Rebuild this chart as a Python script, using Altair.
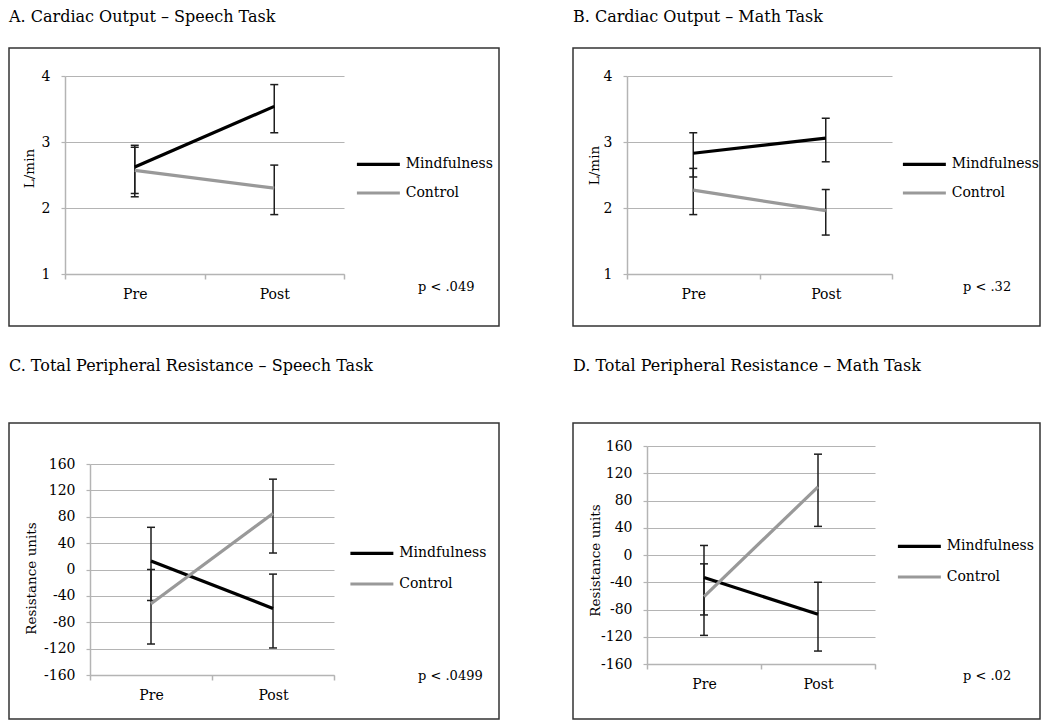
import altair as alt
import pandas as pd

FONT = "DejaVu Serif"
PHASES = ["Pre", "Post"]
GROUPS = ["Mindfulness", "Control"]

# A. Cardiac Output – Speech Task (L/min)
a_mind = [2.62, 3.54]
a_mind_lo = [2.22, 3.14]
a_mind_hi = [2.95, 3.87]
a_ctrl = [2.57, 2.30]
a_ctrl_lo = [2.17, 1.90]
a_ctrl_hi = [2.92, 2.65]

# B. Cardiac Output – Math Task (L/min)
b_mind = [2.83, 3.06]
b_mind_lo = [2.47, 2.70]
b_mind_hi = [3.14, 3.36]
b_ctrl = [2.27, 1.96]
b_ctrl_lo = [1.90, 1.59]
b_ctrl_hi = [2.60, 2.28]

# C. Total Peripheral Resistance – Speech Task
c_mind = [13, -59]
c_mind_lo = [-47, -119]
c_mind_hi = [64, -7]
c_ctrl = [-52, 85]
c_ctrl_lo = [-113, 25]
c_ctrl_hi = [0, 137]

# D. Total Peripheral Resistance – Math Task
d_mind = [-33, -87]
d_mind_lo = [-88, -141]
d_mind_hi = [14, -40]
d_ctrl = [-61, 100]
d_ctrl_lo = [-118, 42]
d_ctrl_hi = [-13, 148]

co_ticks = [1, 2, 3, 4]
tpr_ticks = [-160, -120, -80, -40, 0, 40, 80, 120, 160]

GRID = "#b4b4b4"
ERR = "#1e1e1e"


def panel(title, mind, mind_lo, mind_hi, ctrl, ctrl_lo, ctrl_hi, ydomain, yticks,
          ytitle, pval, box_w, box_h, x_rng, y_rng, ytx, yty, leg_x, leg_y, leg_rp,
          p_x, p_y, title_offset):
    df = pd.DataFrame({
        "phase": PHASES * 2,
        "group": [GROUPS[0]] * 2 + [GROUPS[1]] * 2,
        "value": mind + ctrl,
        "lo": mind_lo + ctrl_lo,
        "hi": mind_hi + ctrl_hi,
    })
    xscale = alt.Scale(type="band", domain=PHASES, range=x_rng,
                       paddingInner=0, paddingOuter=0)
    yscale = alt.Scale(domain=ydomain, range=y_rng, nice=False, zero=False)
    x_axis = alt.Axis(title=None, orient="bottom", offset=-(box_h - y_rng[0]),
                      tickBand="extent", grid=False, domainColor=GRID,
                      domainWidth=1.5, tickColor=GRID, tickSize=5, tickWidth=1.5,
                      labelPadding=8, labelAngle=0)
    y_axis = alt.Axis(title=ytitle, orient="left", offset=-x_rng[0], values=yticks,
                      grid=True, gridColor=GRID, gridWidth=1.2, domainColor=GRID,
                      domainWidth=1.5, tickColor=GRID, tickSize=4, tickWidth=1.2,
                      labelPadding=11, labelExpr="toString(datum.value)",
                      titleX=ytx, titleY=yty, titleAngle=-90, titleAlign="center",
                      titleBaseline="middle")
    x = alt.X("phase:N", sort=PHASES, scale=xscale, axis=x_axis)
    base = alt.Chart(df)
    rules = base.mark_rule(color=ERR, strokeWidth=1.5).encode(
        x=x, y=alt.Y("lo:Q", scale=yscale, axis=y_axis), y2="hi:Q")
    caps_lo = base.mark_tick(color=ERR, size=8, thickness=1.5, opacity=1).encode(
        x=x, y=alt.Y("lo:Q", scale=yscale, axis=y_axis))
    caps_hi = base.mark_tick(color=ERR, size=8, thickness=1.5, opacity=1).encode(
        x=x, y=alt.Y("hi:Q", scale=yscale, axis=y_axis))
    lines = base.mark_line(strokeWidth=3.2).encode(
        x=x,
        y=alt.Y("value:Q", scale=yscale, axis=y_axis),
        color=alt.Color("group:N",
                        scale=alt.Scale(domain=GROUPS, range=["#000000", "#999999"]),
                        legend=alt.Legend(orient="none", legendX=leg_x, legendY=leg_y,
                                          title=None, padding=0,
                                          symbolType="M-5,0H1", symbolSize=205,
                                          symbolStrokeWidth=3.2, labelFont=FONT,
                                          labelFontSize=14, labelColor="#000000",
                                          labelOffset=4, rowPadding=leg_rp)),
        detail="group:N",
    )
    ptext = alt.Chart(pd.DataFrame({"t": [pval]})).mark_text(
        font=FONT, fontSize=13, align="left", baseline="middle", color="#000000"
    ).encode(x=alt.value(p_x), y=alt.value(p_y), text="t:N")
    return alt.layer(rules, caps_lo, caps_hi, lines, ptext).properties(
        width=box_w, height=box_h,
        title=alt.TitleParams(title, anchor="start", font=FONT, fontSize=16,
                              fontWeight="normal", color="#000000",
                              offset=title_offset, frame="group"),
    )


pA = panel("A. Cardiac Output \u2013 Speech Task", a_mind, a_mind_lo, a_mind_hi,
           a_ctrl, a_ctrl_lo, a_ctrl_hi, [1, 4], co_ticks, "L/min", "p < .049",
           490, 278, [56, 335], [226, 28], -36, 120, 374.7, 107.3, 12.7, 409, 239, 23)
pB = panel("B. Cardiac Output \u2013 Math Task", b_mind, b_mind_lo, b_mind_hi,
           b_ctrl, b_ctrl_lo, b_ctrl_hi, [1, 4], co_ticks, "L/min", "p < .32",
           467, 278, [54, 319], [226, 28], -33, 117, 356.7, 107.3, 12.7, 390, 239, 23)
pC = panel("C. Total Peripheral Resistance \u2013 Speech Task", c_mind, c_mind_lo, c_mind_hi,
           c_ctrl, c_ctrl_lo, c_ctrl_hi, [-160, 160], tpr_ticks, "Resistance units",
           "p < .0499", 490, 296, [81, 325], [252, 41], -59, 155, 368.2, 121.3, 14.7,
           409, 253, 49)
pD = panel("D. Total Peripheral Resistance \u2013 Math Task", d_mind, d_mind_lo, d_mind_hi,
           d_ctrl, d_ctrl_lo, d_ctrl_hi, [-160, 160], tpr_ticks, "Resistance units",
           "p < .02", 467, 296, [74, 302], [241, 23], -52, 137, 351.7, 114.3, 14.7,
           390, 253, 49)

row1 = alt.hconcat(pA, pB, spacing=72).resolve_scale(color="independent", x="independent", y="independent")
row2 = alt.hconcat(pC, pD, spacing=72).resolve_scale(color="independent", x="independent", y="independent")

chart = alt.vconcat(row1, row2, spacing=30).resolve_scale(
    color="independent", x="independent", y="independent"
).properties(padding=0).configure_view(
    stroke="#333333", strokeWidth=1.5
).configure_axis(
    labelFont=FONT, labelFontSize=14, labelColor="#000000",
    titleFont=FONT, titleFontSize=13.5, titleFontWeight="normal", titleColor="#000000",
)

chart.save("out.html", embed_options={"renderer": "svg", "actions": False})
